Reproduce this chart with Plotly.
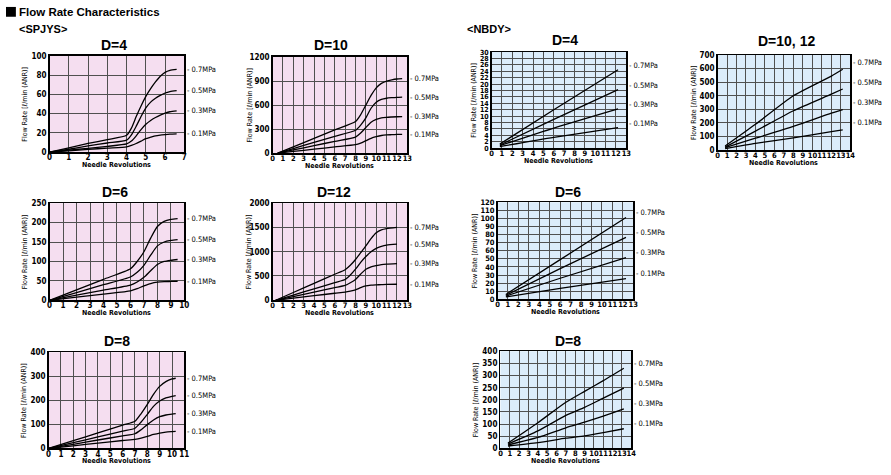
import plotly.graph_objects as go

W, H = 891, 475
NARROW = "Liberation Sans Narrow, Arial Narrow, DejaVu Sans Condensed, Liberation Sans, sans-serif"
SANS = "Liberation Sans, Arial, Helvetica, sans-serif"
PINK = "#f5def0"
BLUE = "#dcecfa"
GRID = "#505050"

PRESSURES = ["0.7MPa", "0.5MPa", "0.3MPa", "0.1MPa"]

# ---------------- SPJYS ----------------
spjys_d4_x = [0, 1, 2, 3, 4, 4.25, 4.5, 4.75, 5, 5.25, 5.5, 5.75, 6, 6.25, 6.6]
spjys_d4_07 = [0, 4.5, 9, 13, 17.5, 25, 37, 48, 58, 66, 73, 79, 83, 85, 86]
spjys_d4_05 = [0, 3, 6.5, 9.5, 12.5, 18, 27, 37, 46, 52, 56, 59, 61.5, 63, 64]
spjys_d4_03 = [0, 2, 4, 6, 8.5, 11.5, 17, 23.5, 29, 33, 36, 38.5, 40.5, 42, 43]
spjys_d4_01 = [0, 1.4, 2.8, 4.2, 5.5, 7, 9, 11.5, 14, 15.5, 17, 17.8, 18.3, 18.7, 19]

spjys_d10_x = [0.5, 2, 4, 6, 8, 8.5, 9, 9.5, 10, 10.5, 11, 11.5, 12, 12.5]
spjys_d10_07 = [0, 79, 184, 290, 395, 480, 600, 720, 815, 870, 900, 915, 925, 930]
spjys_d10_05 = [0, 57, 133, 209, 285, 350, 440, 560, 635, 670, 685, 692, 697, 700]
spjys_d10_03 = [0, 40, 93, 147, 200, 250, 320, 385, 420, 440, 447, 451, 454, 455]
spjys_d10_01 = [0, 21, 49, 77, 105, 125, 155, 185, 205, 220, 227, 230, 233, 235]

spjys_d6_x = [0, 2, 4, 6, 6.5, 7, 7.5, 8, 8.5, 9, 9.5]
spjys_d6_07 = [0, 27, 54, 81, 100, 125, 160, 190, 203, 208, 210]
spjys_d6_05 = [0, 20, 40, 60, 72, 90, 116, 140, 150, 154, 156]
spjys_d6_03 = [0, 13, 26, 39, 47, 59, 76, 92, 100, 103, 105]
spjys_d6_01 = [0, 8, 16, 24, 30, 37, 43, 46.5, 48, 48.5, 49]

spjys_d12_x = [0.3, 2, 4, 6, 7, 7.5, 8, 8.5, 9, 9.5, 10, 10.5, 11, 12]
spjys_d12_07 = [0, 160, 348, 536, 630, 720, 840, 980, 1120, 1270, 1390, 1450, 1475, 1500]
spjys_d12_05 = [0, 108, 236, 363, 427, 520, 640, 780, 900, 1000, 1070, 1110, 1135, 1155]
spjys_d12_03 = [0, 77, 168, 259, 305, 360, 430, 540, 640, 690, 715, 735, 745, 755]
spjys_d12_01 = [0, 43, 94, 145, 170, 190, 215, 260, 295, 310, 317, 322, 326, 330]

spjys_d8_x = [0, 2, 4, 6, 7, 7.5, 8, 8.5, 9, 9.5, 10, 10.3]
spjys_d8_07 = [0, 32, 65, 97, 113, 145, 183, 225, 258, 278, 289, 292]
spjys_d8_05 = [0, 24, 48, 72, 84, 110, 142, 175, 197, 210, 217, 220]
spjys_d8_03 = [0, 17, 35, 52, 61, 78, 99, 118, 132, 139, 143, 145]
spjys_d8_01 = [0, 11, 22, 33, 38, 43, 50, 58, 64, 68, 70, 71]

# ---------------- NBDY ----------------
nbdy_d4_x = [0.8, 6, 12.2]
nbdy_d4_07 = [1.3, 12.0, 24.5]
nbdy_d4_05 = [1.0, 9.0, 18.3]
nbdy_d4_03 = [0.8, 6.3, 12.3]
nbdy_d4_01 = [0.5, 3.4, 6.4]

nbdy_d1012_x = [0.8, 4, 8, 12, 13.2]
nbdy_d1012_07 = [30, 190, 400, 545, 595]
nbdy_d1012_05 = [22, 140, 290, 412, 450]
nbdy_d1012_03 = [18, 88, 175, 272, 298]
nbdy_d1012_01 = [12, 50, 90, 136, 150]

nbdy_d6_x = [0.8, 6, 12.3]
nbdy_d6_07 = [6, 49, 101]
nbdy_d6_05 = [5, 38, 76.5]
nbdy_d6_03 = [4, 26, 51.5]
nbdy_d6_01 = [3, 13.5, 25.6]

nbdy_d8_x = [0.8, 4, 7, 9, 11, 13.2]
nbdy_d8_07 = [22, 106, 190, 235, 279, 330]
nbdy_d8_05 = [18, 72, 136, 169, 207, 248]
nbdy_d8_03 = [14, 45, 85, 108, 133, 163]
nbdy_d8_01 = [10, 24, 42, 52, 65, 81]

# panel layout: box = (left, right, top, bottom) in pixels
panels = [
    dict(title="D=4", x=spjys_d4_x, ys=[spjys_d4_07, spjys_d4_05, spjys_d4_03, spjys_d4_01],
         xr=[0, 7], yr=[0, 100], dy=20, box=(47, 183, 53, 151), bg=PINK, tc=(112, 42), lshift=0, yoff=25),
    dict(title="D=10", x=spjys_d10_x, ys=[spjys_d10_07, spjys_d10_05, spjys_d10_03, spjys_d10_01],
         xr=[0, 13], yr=[0, 1200], dy=300, box=(272, 408, 54, 152), bg=PINK, tc=(331, 42), lshift=0, yoff=23),
    dict(title="D=4", x=nbdy_d4_x, ys=[nbdy_d4_07, nbdy_d4_05, nbdy_d4_03, nbdy_d4_01],
         xr=[0, 13], yr=[0, 30], dy=2, box=(493, 629, 49, 147), bg=BLUE, tc=(567, 37), lshift=4, yoff=17),
    dict(title="D=10, 12", x=nbdy_d1012_x, ys=[nbdy_d1012_07, nbdy_d1012_05, nbdy_d1012_03, nbdy_d1012_01],
         xr=[0, 14], yr=[0, 700], dy=100, box=(721, 855, 52, 149), bg=BLUE, tc=(791, 38), lshift=7, yoff=24),
    dict(title="D=6", x=spjys_d6_x, ys=[spjys_d6_07, spjys_d6_05, spjys_d6_03, spjys_d6_01],
         xr=[0, 10], yr=[0, 250], dy=50, box=(47, 183, 203, 302), bg=PINK, tc=(113, 192), lshift=0, yoff=25),
    dict(title="D=12", x=spjys_d12_x, ys=[spjys_d12_07, spjys_d12_05, spjys_d12_03, spjys_d12_01],
         xr=[0, 13], yr=[0, 2000], dy=500, box=(272, 408, 203, 302), bg=PINK, tc=(334, 192), lshift=0, yoff=24),
    dict(title="D=6", x=nbdy_d6_x, ys=[nbdy_d6_07, nbdy_d6_05, nbdy_d6_03, nbdy_d6_01],
         xr=[0, 13], yr=[0, 120], dy=10, box=(499, 636, 202, 301), bg=BLUE, tc=(570, 192), lshift=5, yoff=23),
    dict(title="D=8", x=spjys_d8_x, ys=[spjys_d8_07, spjys_d8_05, spjys_d8_03, spjys_d8_01],
         xr=[0, 11], yr=[0, 400], dy=100, box=(46, 183, 355, 453), bg=PINK, tc=(115, 343), lshift=0, yoff=24),
    dict(title="D=8", x=nbdy_d8_x, ys=[nbdy_d8_07, nbdy_d8_05, nbdy_d8_03, nbdy_d8_01],
         xr=[0, 14], yr=[0, 400], dy=50, box=(502, 634, 354, 453), bg=BLUE, tc=(570, 343), lshift=5, yoff=25),
]


def PX(p):
    return p / W


def PY(p):
    return 1 - p / H


fig = go.Figure()
layout = dict(
    width=W, height=H, margin=dict(l=0, r=0, t=0, b=0, pad=0),
    paper_bgcolor="white", plot_bgcolor="rgba(0,0,0,0)",
    showlegend=False, hovermode=False,
    font=dict(family=NARROW, color="black", size=8),
)
shapes = []
annotations = []

tickfont = dict(family=NARROW, size=8, color="black", weight="bold")

for i, p in enumerate(panels, start=1):
    xa = "x" if i == 1 else f"x{i}"
    ya = "y" if i == 1 else f"y{i}"
    l, r, t, b = p["box"]
    xfs = 7.5 if p["xr"][1] >= 13 else 8
    yfs = 7 if p["dy"] == 2 else (7.5 if p["dy"] == 10 else 8)
    layout["xaxis" if i == 1 else f"xaxis{i}"] = dict(
        domain=[PX(l), PX(r)], range=p["xr"], anchor=ya, tickmode="linear", tick0=0, dtick=1,
        showgrid=True, gridcolor=GRID, gridwidth=1, zeroline=False,
        showline=True, linecolor="black", linewidth=1.5, mirror=True, tickangle=0,
        ticks="", tickfont=dict(tickfont, size=xfs), ticklabelstandoff=-3, fixedrange=True,
    )
    layout["yaxis" if i == 1 else f"yaxis{i}"] = dict(
        domain=[PY(b), PY(t)], range=p["yr"], anchor=xa, tickmode="linear", tick0=0, dtick=p["dy"],
        showgrid=True, gridcolor=GRID, gridwidth=1, zeroline=False,
        showline=True, linecolor="black", linewidth=1.5, mirror=True, tickangle=0,
        ticks="", tickfont=dict(tickfont, size=yfs),
        ticklabelstandoff=0, fixedrange=True,
    )
    shapes.append(dict(type="rect", xref=f"{xa} domain", yref=f"{ya} domain", x0=0, x1=1, y0=0, y1=1,
                       fillcolor=p["bg"], line=dict(width=0), layer="below"))
    for lab, yv in zip(PRESSURES, p["ys"]):
        fig.add_trace(go.Scatter(x=p["x"], y=yv, mode="lines", xaxis=xa, yaxis=ya,
                                 line=dict(color="black", width=1.3, shape="spline", smoothing=0.6)))
        annotations.append(dict(text="- " + lab, xref=f"{xa} domain", x=1, xanchor="left", xshift=1,
                                yref=ya, y=yv[-1], yanchor="middle", yshift=p["lshift"], showarrow=False,
                                font=dict(family=NARROW, size=7.5, color="black")))
    # panel title
    annotations.append(dict(text=f"<b>{p['title']}</b>", xref="paper", yref="paper",
                            x=PX(p["tc"][0]), y=PY(p["tc"][1]), xanchor="center", yanchor="middle",
                            showarrow=False, font=dict(family=SANS, size=14, color="black")))
    # x-axis title
    annotations.append(dict(text="<b>Needle Revolutions</b>", xref=f"{xa} domain", x=0.5, xanchor="center",
                            yref=f"{ya} domain", y=0, yanchor="middle", yshift=-13, showarrow=False,
                            font=dict(family=NARROW, size=7, color="black")))
    # y-axis title
    annotations.append(dict(text="Flow Rate [ℓ/min (ANR)]", xref=f"{xa} domain", x=0, xanchor="center",
                            xshift=-p["yoff"], yref=f"{ya} domain", y=0.5, yanchor="middle", textangle=-90,
                            showarrow=False, font=dict(family=NARROW, size=7, color="black")))

# header
shapes.append(dict(type="rect", xref="paper", yref="paper", x0=PX(3), x1=PX(13), y0=PY(13), y1=PY(3),
                   fillcolor="black", line=dict(width=0)))
annotations.append(dict(text="<b>Flow Rate Characteristics</b>", xref="paper", yref="paper",
                        x=PX(14), y=PY(8), xanchor="left", yanchor="middle", showarrow=False,
                        font=dict(family=SANS, size=11.5, color="black")))
annotations.append(dict(text="<b>&lt;SPJYS&gt;</b>", xref="paper", yref="paper",
                        x=PX(14), y=PY(25), xanchor="left", yanchor="middle", showarrow=False,
                        font=dict(family=SANS, size=11, color="black")))
annotations.append(dict(text="<b>&lt;NBDY&gt;</b>", xref="paper", yref="paper",
                        x=PX(466), y=PY(25), xanchor="left", yanchor="middle", showarrow=False,
                        font=dict(family=SANS, size=11, color="black")))

layout["shapes"] = shapes
layout["annotations"] = annotations
fig.update_layout(**layout)
fig.write_html(
    "out.html",
    config={"displayModeBar": False, "staticPlot": True},
    post_script="document.body.style.margin='0';document.body.style.padding='0';"
                "document.body.style.overflow='hidden';",
)
